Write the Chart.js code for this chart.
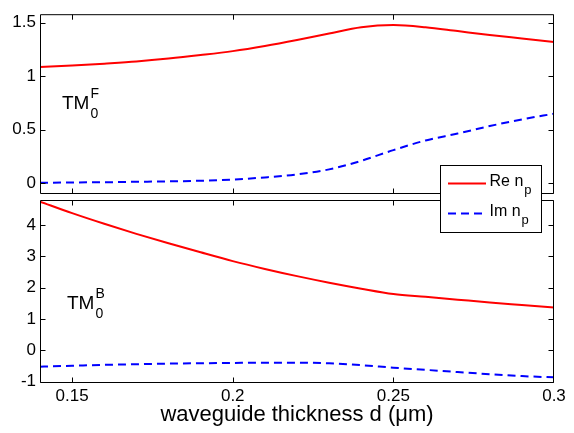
<!DOCTYPE html>
<html><head><meta charset="utf-8">
<script src="https://cdn.jsdelivr.net/npm/chart.js@4/dist/chart.umd.min.js"></script>
<style>
html,body{margin:0;padding:0;background:#fff;}
#wrap{position:relative;width:574px;height:433px;}
canvas{position:absolute;left:0;top:0;}
</style>
</head><body>
<div id="wrap"><canvas id="cTop" width="574" height="433"></canvas><canvas id="cBot" width="574" height="433"></canvas></div>
<script>
// ---- data ----
const thickness = [0.14,0.15,0.16,0.17,0.18,0.19,0.20,0.21,0.22,0.23,0.24,0.25,0.26,0.27,0.28,0.29,0.30];
const reTop    = [1.086,1.10,1.118,1.138,1.165,1.198,1.235,1.283,1.339,1.40,1.458,1.478,1.458,1.422,1.386,1.353,1.32];
const imTop    = [0.005,0.008,0.01,0.014,0.018,0.024,0.035,0.055,0.083,0.13,0.21,0.31,0.40,0.465,0.535,0.597,0.65];
const reBottom = [4.75,4.38,4.04,3.72,3.42,3.13,2.85,2.60,2.37,2.16,1.97,1.80,1.71,1.62,1.53,1.45,1.37];
const imBottom = [-0.52,-0.49,-0.46,-0.44,-0.42,-0.41,-0.40,-0.39,-0.39,-0.41,-0.47,-0.55,-0.62,-0.69,-0.76,-0.82,-0.86];
const xTicks = [0.15,0.2,0.25,0.3];
const xTickLabels = ['0.15','0.2','0.25','0.3'];
const yTicksTop = [0,0.5,1,1.5];
const yTickLabelsTop = ['0','0.5','1','1.5'];
const yTicksBottom = [-1,0,1,2,3,4];
const yTickLabelsBottom = ['-1','0','1','2','3','4'];
const seriesNames = ['Re n','Im n'];
const seriesSub = 'p';
const xTitle = 'waveguide thickness d (\u03bcm)';
const panelLabels = [['TM','F','0'],['TM','B','0']];

const FONT = "'Liberation Sans', Arial, Helvetica, sans-serif";
Chart.defaults.font.family = FONT;
Chart.defaults.color = '#000';

const pts = arr => thickness.map((x,i)=>({x, y: arr[i]}));

const frame = {
  id: 'frame',
  afterDatasetsDraw(chart, args, o) {
    const {ctx, chartArea: a} = chart;
    const xs = chart.scales.x, ys = chart.scales.y;
    ctx.save();
    ctx.strokeStyle = '#000'; ctx.lineWidth = 1; ctx.setLineDash([]);
    const L = a.left + 0.5, R = a.right - 0.5, T = a.top + 0.5, B = a.bottom - 0.5;
    ctx.beginPath();
    ctx.rect(L, T, R - L, B - T);
    xTicks.forEach(v => {
      const p = Math.min(Math.round(xs.getPixelForValue(v)) + 0.5, R);
      ctx.moveTo(p, T); ctx.lineTo(p, T + 5);
      ctx.moveTo(p, B); ctx.lineTo(p, B - 5);
    });
    o.yTicks.forEach(v => {
      const p = Math.round(ys.getPixelForValue(v)) + 0.5;
      ctx.moveTo(L, p); ctx.lineTo(L + 5, p);
      ctx.moveTo(R, p); ctx.lineTo(R - 5, p);
    });
    ctx.stroke();
    // panel label TM with super/subscript
    const lab = o.label;
    ctx.fillStyle = '#000';
    ctx.textBaseline = 'alphabetic'; ctx.textAlign = 'left';
    ctx.font = '19px ' + FONT;
    ctx.fillText(lab.t[0], lab.x, lab.y);
    const w = ctx.measureText(lab.t[0]).width;
    ctx.font = '14px ' + FONT;
    ctx.fillText(lab.t[1], lab.x + w + 1, lab.y - 11);
    ctx.fillText(lab.t[2], lab.x + w + 1, lab.y + 9);
    ctx.restore();
  },
  afterDraw(chart, args, o) {
    if (!o.legend) return;
    const ctx = chart.ctx;
    ctx.save();
    ctx.fillStyle = '#fff';
    ctx.fillRect(440.5, 165.5, 101, 67);
    ctx.strokeStyle = '#000'; ctx.lineWidth = 1; ctx.setLineDash([]);
    ctx.strokeRect(440.5, 165.5, 101, 67);
    const rows = [{ly: 183.5, base: 186, sub: 194}, {ly: 213.5, base: 216, sub: 224}];
    chart.data.datasets.forEach((ds, i) => {
      const r = rows[i];
      ctx.strokeStyle = ds.borderColor; ctx.lineWidth = 2;
      ctx.setLineDash(ds.borderDash || []);
      ctx.beginPath(); ctx.moveTo(448, r.ly); ctx.lineTo(486, r.ly); ctx.stroke();
      ctx.setLineDash([]);
      ctx.fillStyle = '#000'; ctx.textBaseline = 'alphabetic'; ctx.textAlign = 'left';
      ctx.font = '16px ' + FONT;
      ctx.fillText(seriesNames[i], 489.5, r.base);
      const w = ctx.measureText(seriesNames[i]).width;
      ctx.font = '13px ' + FONT;
      ctx.fillText(seriesSub, 489.5 + w + 1, r.sub);
    });
    ctx.restore();
  }
};

function xScale(showLabels) {
  return {
    type: 'linear', min: 0.14, max: 0.3,
    display: true,
    grid: {display: false, drawTicks: false},
    border: {display: false},
    afterBuildTicks: s => { s.ticks = xTicks.map(v => ({value: v})); },
    afterFit: s => { s.height = showLabels ? 50 : 0; },
    ticks: {
      display: showLabels, padding: 3, maxRotation: 0, autoSkip: false,
      font: {size: 17}, color: '#000',
      callback: v => xTickLabels[xTicks.indexOf(v)]
    },
    title: showLabels ? {display: true, text: xTitle, color: '#000',
      font: {size: 22, lineHeight: 1}, padding: {top: 0, bottom: 7}} : {display: false}
  };
}
function yScale(min, max, ticks, labels) {
  return {
    type: 'linear', min, max,
    grid: {display: false, drawTicks: false},
    border: {display: false},
    afterBuildTicks: s => { s.ticks = ticks.map(v => ({value: v})); },
    afterFit: s => { s.width = 40; },
    ticks: {padding: 4, font: {size: 17}, color: '#000', autoSkip: false,
      callback: v => labels[ticks.indexOf(v)]}
  };
}
function datasets(re, im) {
  return [
    {label: 'Re n_p', data: pts(re), borderColor: '#ff0000', borderWidth: 2, pointRadius: 0, cubicInterpolationMode: 'monotone', fill: false},
    {label: 'Im n_p', data: pts(im), borderColor: '#0000ff', borderWidth: 2, borderDash: [8,5], pointRadius: 0, cubicInterpolationMode: 'monotone', fill: false}
  ];
}

new Chart(document.getElementById('cTop'), {
  type: 'line',
  data: {datasets: datasets(reTop, imTop)},
  options: {
    responsive: false, animation: false, devicePixelRatio: 1,
    layout: {padding: {top: 12, right: 20, bottom: 239, left: 0}},
    scales: {x: xScale(false), y: yScale(-0.1, 1.58, yTicksTop, yTickLabelsTop)},
    plugins: {legend: {display: false}, tooltip: {enabled: false},
      frame: {yTicks: yTicksTop, legend: false, label: {t: panelLabels[0], x: 62, y: 109}}}
  },
  plugins: [frame]
});

new Chart(document.getElementById('cBot'), {
  type: 'line',
  data: {datasets: datasets(reBottom, imBottom)},
  options: {
    responsive: false, animation: false, devicePixelRatio: 1,
    layout: {padding: {top: 200, right: 20, bottom: 0, left: 0}},
    scales: {x: xScale(true), y: yScale(-1.04, 4.8, yTicksBottom, yTickLabelsBottom)},
    plugins: {legend: {display: false}, tooltip: {enabled: false},
      frame: {yTicks: yTicksBottom, legend: true, label: {t: panelLabels[1], x: 67, y: 309}}}
  },
  plugins: [frame]
});
</script>
</body></html>
